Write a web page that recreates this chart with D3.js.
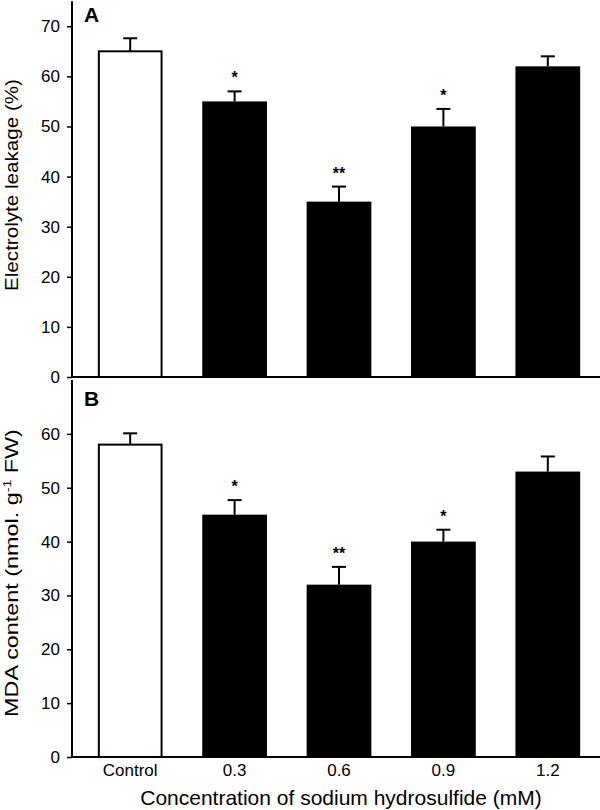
<!DOCTYPE html>
<html><head><meta charset="utf-8">
<script src="https://cdn.jsdelivr.net/npm/d3@7"></script>
<style>body{margin:0;background:#fff}svg{display:block;font-family:"Liberation Sans",Arial,sans-serif}</style>
</head><body>
<svg id="c" width="600" height="810"></svg>
<script>
const categories = ["Control","0.3","0.6","0.9","1.2"];
const leakage = [65,55,35,50,62];
const leakageErr = [2.6,2.0,3.0,3.5,2.0];
const leakageSig = ["","*","**","*",""];
const mda = [58,45,32,40,53];
const mdaErr = [2.1,2.7,3.3,2.2,2.8];
const mdaSig = ["","*","**","*",""];
const ticksA = [0,10,20,30,40,50,60,70];
const ticksB = [0,10,20,30,40,50,60];

const svg = d3.select("#c");
const x = d3.scaleBand().domain(categories).range([78,600]).paddingInner(0.38).paddingOuter(0.19);
const left = 72;

function panel(o){
  const y = d3.scaleLinear().domain([0,o.max]).range([o.y0,o.y1]);
  const g = svg.append("g");
  g.selectAll("rect.bar").data(o.vals).join("rect")
    .attr("x",(d,i)=>x(categories[i]) + (i===0?1:0))
    .attr("y",d=>y(d))
    .attr("width",(d,i)=>x.bandwidth() - (i===0?2:0))
    .attr("height",d=>y(0)-y(d))
    .attr("fill",(d,i)=>i===0?"#fff":"#000")
    .attr("stroke","#000").attr("stroke-width",(d,i)=>i===0?2:0);
  o.vals.forEach((d,i)=>{
    const cx = x(categories[i]) + x.bandwidth()/2;
    const top = y(d+o.errs[i]);
    g.append("line").attr("x1",cx).attr("x2",cx).attr("y1",y(d)).attr("y2",top).attr("stroke","#000").attr("stroke-width",2);
    g.append("line").attr("x1",cx-7).attr("x2",cx+7).attr("y1",top).attr("y2",top).attr("stroke","#000").attr("stroke-width",2);
    if(o.sig[i]) g.append("text").attr("x",cx).attr("y",top-8).attr("text-anchor","middle")
      .attr("font-size",16).attr("font-weight","bold").text(o.sig[i]);
  });
  const ax = d3.axisLeft(y).tickValues(o.ticks).tickSize(5).tickPadding(7).tickFormat(d3.format("d"));
  const ag = g.append("g").attr("transform",`translate(${left},0)`).call(ax);
  ag.select(".domain").remove();
  ag.selectAll(".tick line").attr("stroke","#000").attr("stroke-width",1.5);
  ag.selectAll(".tick text").attr("font-size",17).attr("fill","#000").attr("font-family","Liberation Sans, Arial, sans-serif");
  g.append("line").attr("x1",left).attr("x2",left).attr("y1",y(o.max)).attr("y2",y(0)).attr("stroke","#000").attr("stroke-width",2);
  g.append("line").attr("x1",left).attr("x2",600).attr("y1",y(0)).attr("y2",y(0)).attr("stroke","#000").attr("stroke-width",2);
  g.append("text").attr("x",84).attr("y",o.labelY).attr("font-size",21).attr("font-weight","bold").text(o.label);
  const t = g.append("text").attr("text-anchor","middle").attr("font-size",18);
  if(o.sup){
    t.append("tspan").text("MDA content (nmol. g");
    t.append("tspan").attr("font-size",11).attr("dy",-7).text("-1");
    t.append("tspan").attr("dy",7).text(" FW)");
  } else t.text(o.title);
  const len = t.node().getComputedTextLength();
  t.attr("transform",`translate(18,${o.titleY}) rotate(-90) scale(${o.titleLen/len},1)`);
  return y;
}

panel({vals:leakage, errs:leakageErr, sig:leakageSig, ticks:ticksA, max:75, y0:377, y1:1.2,
  label:"A", labelY:22, title:"Electrolyte leakage (%)", titleY:185, titleLen:212, sup:false});
panel({vals:mda, errs:mdaErr, sig:mdaSig, ticks:ticksB, max:70, y0:757, y1:380,
  label:"B", labelY:406, title:"", titleY:573, titleLen:288, sup:true});

svg.append("g").selectAll("text").data(categories).join("text")
  .attr("x",d=>x(d)+x.bandwidth()/2).attr("y",776).attr("text-anchor","middle")
  .attr("font-size",17).text(d=>d);
svg.append("text").attr("x",341).attr("y",805).attr("text-anchor","middle").attr("font-size",21)
  .text("Concentration of sodium hydrosulfide (mM)");
</script>
</body></html>
